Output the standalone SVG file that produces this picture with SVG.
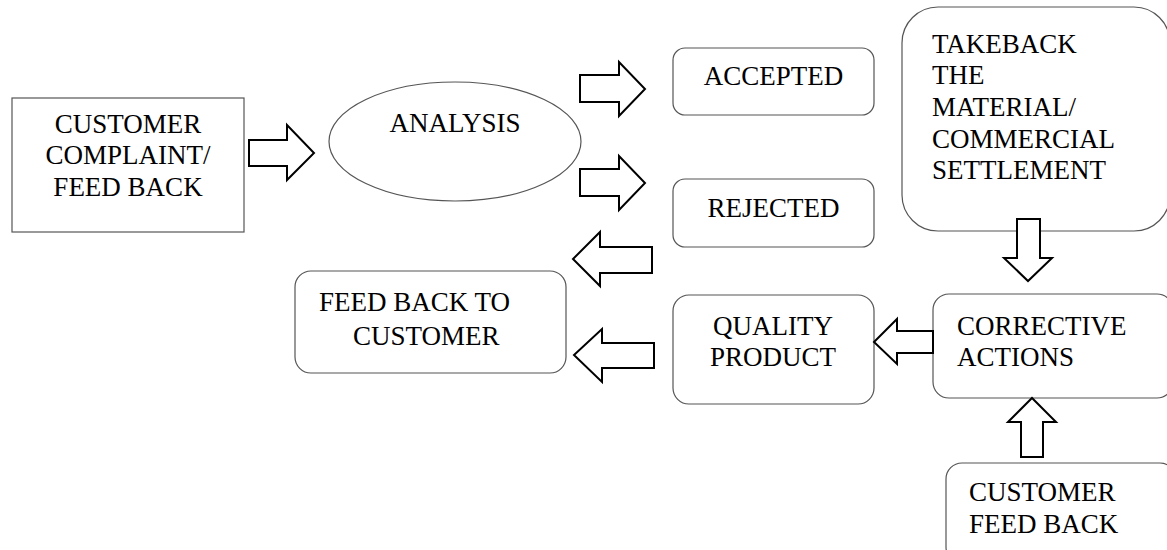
<svg xmlns="http://www.w3.org/2000/svg" width="1167" height="550" viewBox="0 0 1167 550">
<style>
.box{fill:#fff;stroke:#555;stroke-width:1.2}
.t{font-family:"Liberation Serif","Times New Roman",serif;font-size:27px;fill:#000}
.c{text-anchor:middle}
.arr{fill:#fff;stroke:#000;stroke-width:2;stroke-linejoin:miter}
</style>
<rect width="1167" height="550" fill="#fff"/>
<g id="complaint">
<rect class="box" x="12" y="98" width="232" height="134"/>
<text class="t c" x="128" y="133">CUSTOMER</text>
<text class="t c" x="128" y="164">COMPLAINT/</text>
<text class="t c" x="128" y="196">FEED BACK</text>
</g>
<g id="analysis">
<ellipse class="box" cx="455" cy="141.5" rx="126" ry="59.5"/>
<text class="t c" x="455" y="132">ANALYSIS</text>
</g>
<g id="accepted">
<rect class="box" x="673" y="48" width="201" height="67" rx="12"/>
<text class="t c" x="773.5" y="85">ACCEPTED</text>
</g>
<g id="rejected">
<rect class="box" x="673" y="179" width="201" height="68" rx="12"/>
<text class="t c" x="773.5" y="217">REJECTED</text>
</g>
<g id="takeback">
<rect class="box" x="902" y="7" width="268" height="224" rx="36"/>
<text class="t" x="932" y="53">TAKEBACK</text>
<text class="t" x="932" y="84">THE</text>
<text class="t" x="932" y="116">MATERIAL/</text>
<text class="t" x="932" y="148">COMMERCIAL</text>
<text class="t" x="932" y="179">SETTLEMENT</text>
</g>
<g id="feedback-to-customer">
<rect class="box" x="295" y="271" width="271" height="102" rx="16"/>
<text class="t" x="319" y="311">FEED BACK TO</text>
<text class="t" x="353" y="345">CUSTOMER</text>
</g>
<g id="quality">
<rect class="box" x="673" y="295" width="201" height="109" rx="16"/>
<text class="t c" x="773" y="335">QUALITY</text>
<text class="t c" x="773" y="366">PRODUCT</text>
</g>
<g id="corrective">
<rect class="box" x="933" y="294" width="240" height="104" rx="16"/>
<text class="t" x="957" y="335">CORRECTIVE</text>
<text class="t" x="957" y="366">ACTIONS</text>
</g>
<g id="customer-feedback">
<rect class="box" x="946" y="463" width="230" height="100" rx="16"/>
<text class="t" x="969" y="501">CUSTOMER</text>
<text class="t" x="969" y="533">FEED BACK</text>
</g>
<g id="connectors">
<polygon class="arr" points="249,140 287,140 287,125 314,153 287,180 287,166 249,166"/>
<polygon class="arr" points="580,75 619,75 619,62 645,89 619,116 619,102 580,102"/>
<polygon class="arr" points="580,169 619,169 619,156 645,183 619,210 619,196 580,196"/>
<polygon class="arr" points="652,247 600,247 600,232 573,259 600,286 600,273 652,273"/>
<polygon class="arr" points="654,343 602,343 602,329 574,355 602,382 602,368 654,368"/>
<polygon class="arr" points="933,331 897,331 897,319 874,342 897,364 897,353 933,353"/>
<polygon class="arr" points="1017,219 1040,219 1040,258 1052,258 1028,281 1004,258 1017,258"/>
<polygon class="arr" points="1021,457 1043,457 1043,422 1056,422 1032,398 1008,422 1021,422"/>
</g>
</svg>
